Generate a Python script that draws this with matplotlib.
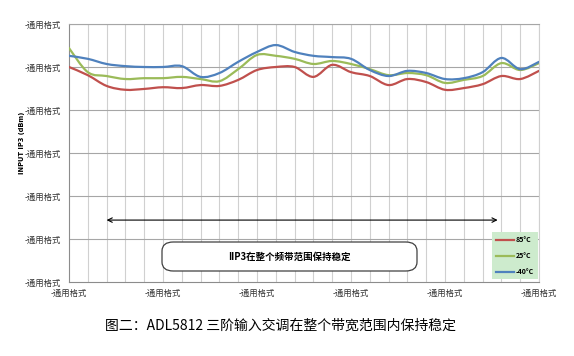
import numpy as np
import matplotlib
matplotlib.use("Agg")
import matplotlib.pyplot as plt
from matplotlib.path import Path
from matplotlib.patches import PathPatch, FancyBboxPatch
from matplotlib.lines import Line2D

plt.rcParams['font.family'] = ['Noto Sans CJK SC', 'DejaVu Sans']

# ---------------- data ----------------
x_idx = list(range(26))
series_names = ['85°C', '25°C', '-40°C']
iip3_85 = [5.00, 4.81, 4.56, 4.47, 4.49, 4.53, 4.51, 4.58, 4.56, 4.70, 4.93, 5.00, 5.00,
           4.77, 5.05, 4.88, 4.79, 4.58, 4.72, 4.65, 4.47, 4.51, 4.60, 4.79, 4.72, 4.91]
iip3_25 = [5.44, 4.88, 4.79, 4.72, 4.74, 4.74, 4.77, 4.72, 4.67, 4.95, 5.28, 5.26, 5.19,
           5.07, 5.14, 5.07, 4.95, 4.81, 4.86, 4.81, 4.63, 4.70, 4.79, 5.09, 4.93, 5.09]
iip3_m40 = [5.26, 5.19, 5.07, 5.02, 5.00, 5.00, 5.02, 4.77, 4.86, 5.12, 5.35, 5.51, 5.35,
            5.26, 5.23, 5.19, 4.93, 4.79, 4.91, 4.86, 4.72, 4.74, 4.88, 5.21, 4.95, 5.12]
colors = ['#C0504D', '#9BBB59', '#4F81BD']
y_ticks = [0, 1, 2, 3, 4, 5, 6]
y_labels = ['-通用格式'] * 7
x_ticks = [0, 5, 10, 15, 20, 25]
x_labels = ['-通用格式'] * 6
y_title = 'INPUT IP3 (dBm)'
box_text = 'IIP3在整个频带范围保持稳定'
caption = '图二：ADL5812 三阶输入交调在整个带宽范围内保持稳定'
arrow_x = (2.0, 22.8)
arrow_y = 1.44

# ---------------- figure ----------------
W, H = 574, 356
fig = plt.figure(figsize=(W / 100, H / 100), dpi=100)
fig.patch.set_facecolor('white')
L, R, T, B = 69, 539, 24, 282
ax = fig.add_axes([L / W, 1 - B / H, (R - L) / W, (B - T) / H])
ax.set_xlim(0, 25)
ax.set_ylim(0, 6)


def smooth_path(xs, ys, tension=1 / 6):
    xs = np.asarray(xs, float)
    ys = np.asarray(ys, float)
    pts = np.column_stack([xs, ys])
    n = len(pts)
    verts = [pts[0]]
    codes = [Path.MOVETO]
    for i in range(n - 1):
        p0 = pts[i - 1] if i > 0 else pts[i]
        p1 = pts[i]
        p2 = pts[i + 1]
        p3 = pts[i + 2] if i + 2 < n else pts[i + 1]
        c1 = p1 + (p2 - p0) * tension
        c2 = p2 - (p3 - p1) * tension
        verts += [c1, c2, p2]
        codes += [Path.CURVE4] * 3
    return Path(verts, codes)


# grid
for xv in range(1, 26):
    ax.axvline(xv, color='#D0D0D0', lw=0.8, zorder=0)
for yv in y_ticks[1:]:
    ax.axhline(yv, color='#A6A6A6', lw=0.8, zorder=0)

handles = []
for ys, c, name in zip([iip3_85, iip3_25, iip3_m40], colors, series_names):
    p = smooth_path(x_idx, ys)
    ax.add_patch(PathPatch(p, facecolor='none', edgecolor=c, lw=1.6, zorder=3,
                           capstyle='round', joinstyle='round'))
    handles.append(Line2D([], [], color=c, lw=1.6, label=name))

for s in ['left', 'bottom', 'top', 'right']:
    ax.spines[s].set_color('#8C8C8C')
    ax.spines[s].set_linewidth(0.8)
ax.spines['top'].set_color('#A6A6A6')
ax.spines['right'].set_color('#D0D0D0')

ax.set_yticks(y_ticks)
ax.set_yticklabels(y_labels, fontsize=6, color='#333333')
ax.set_xticks(x_ticks)
ax.set_xticklabels(x_labels, fontsize=6, color='#333333')
ax.tick_params(length=0, pad=6)
ax.tick_params(axis='x', pad=5)

fig.text(22 / W, 1 - 143 / H, y_title, rotation=90, fontsize=4.8, fontweight='bold',
         family=['DejaVu Sans'], ha='center', va='center')

# arrow
ax.annotate('', xy=(arrow_x[0], arrow_y), xytext=(arrow_x[1], arrow_y),
            arrowprops=dict(arrowstyle='<->', color='black', lw=0.8,
                            shrinkA=0, shrinkB=0, mutation_scale=8), zorder=4)

# text box
bx0, bx1 = (162 - L) / (R - L) * 25, (417 - L) / (R - L) * 25
by0, by1 = (B - 271) / (B - T) * 6, (B - 242) / (B - T) * 6
box = FancyBboxPatch((bx0, by0), bx1 - bx0, by1 - by0,
                     boxstyle='round,pad=0,rounding_size=0.6',
                     facecolor='white', edgecolor='#404040', lw=0.9, zorder=4,
                     mutation_aspect=0.35)
ax.add_patch(box)
ax.text((bx0 + bx1) / 2, (by0 + by1) / 2, box_text, fontsize=6.8, fontweight='bold',
        ha='center', va='center', zorder=5)

# legend
leg = ax.legend(handles=handles, loc='upper left',
                bbox_to_anchor=(492 / W, 1 - 232 / H), bbox_transform=fig.transFigure,
                fontsize=5, frameon=True, fancybox=False, handlelength=2.6,
                handletextpad=0.2, borderpad=0.6, labelspacing=1.3, borderaxespad=0)
leg.get_frame().set_facecolor('#CDEBCD')
leg.get_frame().set_edgecolor('none')
leg.get_frame().set_alpha(1)
leg.set_zorder(6)
for t in leg.get_texts():
    t.set_fontweight('bold')

# caption
fig.text(105 / W, 1 - 326 / H, caption, fontsize=10, ha='left', va='center')

fig.savefig('out.png', dpi=100)
